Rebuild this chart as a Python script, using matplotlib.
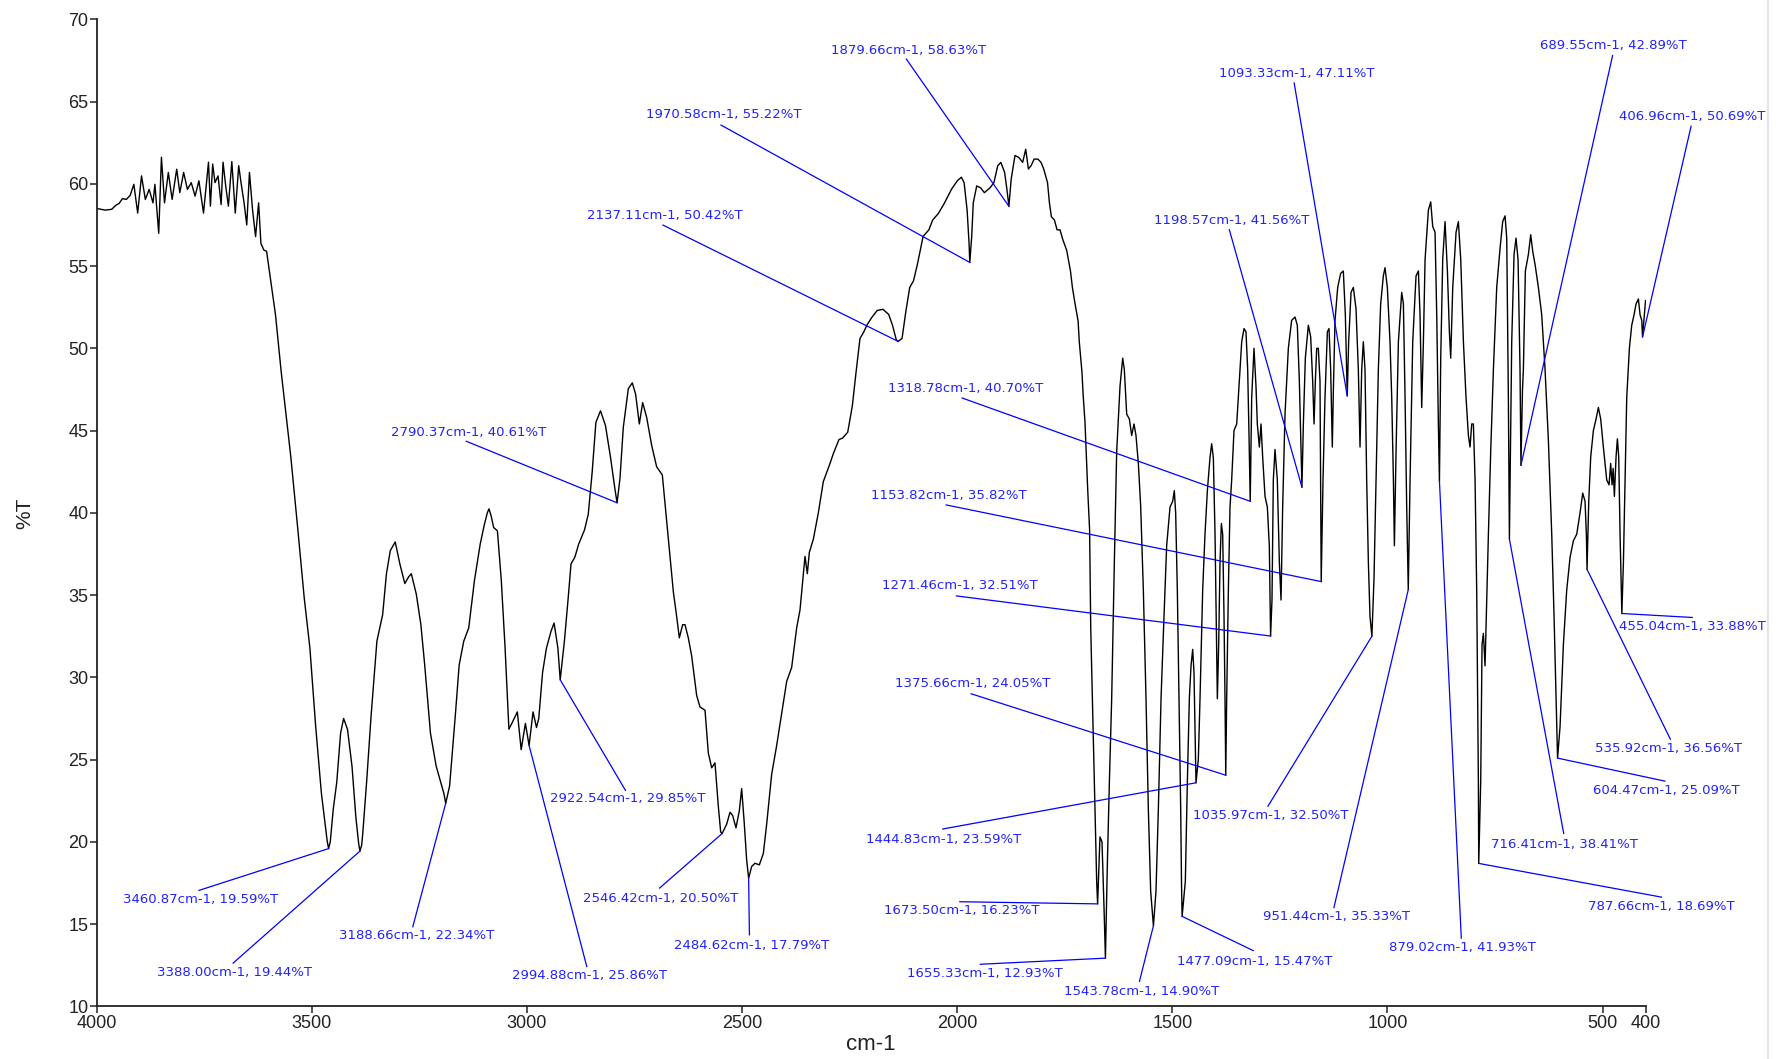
import matplotlib
matplotlib.use("Agg")
import matplotlib.pyplot as plt
from matplotlib.lines import Line2D

plt.rcParams['font.family'] = ['Liberation Sans', 'DejaVu Sans']

# spectrum (cm-1, %T), high to low wavenumber
wavenumber = [
    4000, 3980, 3965, 3955, 3948, 3940, 3931, 3922, 3913.5, 3904.6, 3895.7, 3886.8,
    3877.9, 3869.0, 3864.6, 3855.7, 3849.4, 3842.3, 3833.4, 3824.5, 3813.9, 3806.7,
    3797.8, 3789.0, 3780.1, 3771.2, 3762.3, 3751.6, 3740.0, 3735.6, 3730.3, 3724.9,
    3717.8, 3710.7, 3706.2, 3700.0, 3693.8, 3685.8, 3677.8, 3669.8, 3664.4, 3657.3,
    3651.1, 3644.8, 3637.7, 3630.6, 3623.5, 3618.2, 3611.0, 3605, 3593.3, 3584.4,
    3571, 3564.8, 3548.8, 3532.8, 3517.6, 3504.3, 3491, 3477.6, 3464.3, 3460.87,
    3457, 3450, 3442, 3433, 3426, 3417, 3406.5, 3397.5, 3391, 3388.00, 3384, 3381.5,
    3372.6, 3362, 3348.6, 3335.3, 3326.4, 3317.5, 3306, 3295.3, 3283.7, 3275,
    3268.6, 3257, 3246.4, 3237.5, 3224.1, 3210.8, 3193, 3188.66, 3179.6, 3166.3,
    3157.4, 3146.7, 3135.2, 3121.8, 3108.5, 3099.6, 3092, 3088, 3083, 3077.3,
    3068.5, 3059.5, 3050.7, 3041.8, 3035, 3022.2, 3013.3, 3003.5, 2994.88, 2985.7,
    2977.7, 2972.4, 2963.5, 2954.6, 2943.9, 2936.8, 2927.9, 2922.54, 2912.8, 2903.9,
    2897.4, 2888.5, 2879.6, 2866.2, 2857.4, 2848.5, 2839.6, 2828.9, 2817.3, 2805.8,
    2795.1, 2790.37, 2783.6, 2775.9, 2764.2, 2755, 2747.2, 2738.7, 2730.9, 2721.6,
    2710, 2698.4, 2685.2, 2675.2, 2667.4, 2659.6, 2651.9, 2645.7, 2637.9, 2632.5,
    2624.8, 2617, 2605.4, 2597.7, 2586, 2578.3, 2570.5, 2562.8, 2555, 2549.6,
    2546.42, 2535.7, 2527.9, 2521.7, 2514, 2506.2, 2500.8, 2494.6, 2489.2, 2484.62,
    2477.6, 2469.8, 2459.7, 2450.4, 2442.7, 2431.1, 2419.5, 2407.8, 2396.2, 2384.6,
    2373, 2365.2, 2357.5, 2353.6, 2348.2, 2343.5, 2334.2, 2322.6, 2311, 2295.5,
    2287.7, 2274.7, 2265.9, 2254.3, 2243.6, 2234.7, 2225.8, 2216.9, 2209.8, 2199.1,
    2185.8, 2172.4, 2159.1, 2150.2, 2141.3, 2137.11, 2128, 2119.1, 2110.2, 2101.4,
    2092.4, 2079.1, 2065.7, 2056.8, 2043.5, 2030.1, 2012.4, 1999, 1990.1, 1983.8,
    1976.8, 1972.3, 1970.58, 1966.1, 1962.5, 1954.5, 1945.6, 1936.7, 1923.4, 1914.5,
    1905.6, 1898.4, 1889.6, 1884, 1879.66, 1874.4, 1865.5, 1856.6, 1847.7, 1840.6,
    1834.4, 1828.1, 1821, 1812.2, 1805, 1798.8, 1789.9, 1785.5, 1781, 1773.9,
    1767.7, 1760.9, 1754.3, 1745.4, 1736.6, 1732.1, 1725.9, 1718.8, 1716.1, 1709.9,
    1706.7, 1702.8, 1696.5, 1692.1, 1689.5, 1685, 1679.5, 1675.7, 1673.50, 1668,
    1663.3, 1658.6, 1655.33, 1650.9, 1646.2, 1640.8, 1634.6, 1629.2, 1621.4, 1615.2,
    1611.4, 1605.9, 1599.7, 1594.3, 1588.9, 1584.3, 1578.8, 1573.4, 1567.2, 1561,
    1555.6, 1550.2, 1543.78, 1537.8, 1532.3, 1526.1, 1519.2, 1513, 1505.2, 1499,
    1495.2, 1492.1, 1488.2, 1484.3, 1480.4, 1478.5, 1477.09, 1469.6, 1464.9, 1460.3,
    1456.4, 1452.5, 1449.5, 1447.1, 1444.83, 1439.4, 1435.5, 1429.3, 1423.9, 1418.4,
    1412.3, 1408.4, 1404.5, 1400.6, 1398.3, 1395.2, 1392.1, 1389, 1385.9, 1382.8,
    1379.7, 1377.4, 1375.66, 1373.5, 1369.6, 1365.8, 1361.9, 1356.5, 1350.2, 1344.1,
    1338.6, 1333.2, 1328.6, 1324.7, 1321.6, 1318.78, 1315.4, 1310, 1305.4, 1302.3,
    1297.6, 1293.7, 1289.9, 1284.4, 1279, 1274.4, 1271.46, 1268.2, 1265.1, 1261.2,
    1255.8, 1251.1, 1247.2, 1243.4, 1237.9, 1230.2, 1222.5, 1214.7, 1209.3, 1204.6,
    1201.5, 1198.57, 1195.3, 1190.7, 1183.7, 1178.3, 1173.6, 1170.5, 1167.4, 1164.3,
    1160.5, 1156.6, 1155, 1153.82, 1149.6, 1145, 1139.5, 1135.7, 1131.8, 1128,
    1125.6, 1121.7, 1115.5, 1108.6, 1102.4, 1097.7, 1095, 1093.33, 1090, 1084.5,
    1079.1, 1072.9, 1067.5, 1063.6, 1059.7, 1055.9, 1052, 1048.1, 1044.2, 1040.4,
    1035.97, 1031.1, 1026.4, 1021, 1015.6, 1009.4, 1005.5, 1000.1, 993.9, 989.9,
    986, 983.7, 979.9, 974.4, 966.7, 962.8, 958.9, 955.1, 951.44, 947.3,
    941.1, 933.4, 927.9, 924.1, 920.2, 916.3, 912.4, 904.7, 899.3, 894.6,
    889.2, 885.3, 881.5, 879.02, 876, 871.4, 866, 860.5, 855.9, 852.8,
    848.1, 840.4, 835, 829.5, 823.3, 817.2, 811.7, 807.9, 804, 800.1,
    796.2, 792.4, 788.5, 787.66, 783.1, 780, 776.9, 773, 769.1, 765.2,
    759.9, 753.6, 745.9, 738.2, 732, 726.5, 722.6, 718.8, 716.41, 713.3,
    711, 705.6, 701, 696.3, 691.7, 689.55, 686, 683.9, 679.3, 672.3,
    666.9, 662.2, 656.8, 649, 641.3, 633.5, 625.8, 618, 612.6, 608,
    604.47, 598.7, 590.9, 583.2, 575.4, 567.7, 559.9, 552.2, 546, 540.6,
    537.5, 535.92, 532, 527.4, 521.2, 515, 509.6, 504.2, 498, 490.2,
    484.8, 481, 477.8, 475.3, 472.4, 468.5, 465.4, 462.3, 459.2, 455.04,
    451.4, 447.6, 443.7, 437.5, 432.1, 426.7, 422, 416.6, 412.7, 408.8,
    406.96, 402.6, 400,
]
transmittance = [
    58.5, 58.4, 58.45, 58.7, 58.8, 59.1, 59.05, 59.3, 59.97, 58.22, 60.48, 59.05,
    59.66, 58.84, 59.97, 56.99, 61.61, 58.84, 60.69, 59.05, 60.89, 59.46,
    60.69, 59.66, 60.07, 59.25, 60.18, 58.22, 61.31, 58.64, 61.2, 60.07,
    60.48, 58.74, 61.31, 59.87, 58.64, 61.35, 58.22, 61.1, 60.07, 58.84,
    57.5, 60.69, 58.43, 56.79, 58.84, 56.37, 55.96, 55.9, 53.7, 52.06,
    48.56, 47.13, 43.43, 39.11, 34.85, 31.77, 27.05, 22.95, 20.08, 19.59,
    20.0, 22.0, 23.6, 26.6, 27.5, 26.85, 24.6, 21.5, 19.9, 19.44, 19.8, 20.5,
    23.6, 27.7, 32.2, 33.8, 36.3, 37.7, 38.23, 36.9, 35.7, 36.1,
    36.3, 35.05, 33.2, 30.75, 26.6, 24.6, 22.95, 22.34, 23.4, 27.7,
    30.75, 32.2, 33.0, 35.9, 38.1, 39.2, 40.0, 40.24, 39.8, 39.11,
    38.9, 35.9, 31.8, 26.85, 27.2, 27.9, 25.6, 27.2, 25.86, 27.9,
    26.95, 27.5, 30.3, 31.77, 32.8, 33.3, 31.77, 29.85, 32.2, 34.85,
    36.9, 37.3, 38.1, 38.95, 39.9, 42.4, 45.5, 46.2, 45.3, 43.4,
    41.4, 40.61, 42.1, 45.2, 47.55, 47.9, 47.2, 45.4, 46.7, 45.8,
    44.1, 42.8, 42.3, 39.5, 37.35, 35.2, 33.7, 32.4, 33.2, 33.2,
    32.4, 31.3, 28.9, 28.2, 28.0, 25.4, 24.5, 24.8, 22.15, 20.6,
    20.5, 21.07, 21.8, 21.6, 20.85, 21.9, 23.24, 21.07, 18.9, 17.79,
    18.5, 18.7, 18.6, 19.3, 21.07, 24.1, 25.85, 27.8, 29.75, 30.6,
    33.0, 34.1, 36.3, 37.35, 36.3, 37.6, 38.4, 40.0, 41.9, 43.0,
    43.6, 44.45, 44.55, 44.9, 46.5, 48.6, 50.6, 51.0, 51.4, 51.85,
    52.3, 52.37, 52.06, 51.4, 50.5, 50.42, 50.6, 52.26, 53.7, 54.1,
    55.1, 56.8, 57.2, 57.8, 58.2, 58.8, 59.7, 60.2, 60.4, 60.07,
    58.4, 56.4, 55.22, 56.8, 58.84, 59.87, 59.76, 59.46, 59.76, 60.07,
    61.1, 61.3, 60.69, 59.6, 58.63, 60.28, 61.72, 61.6, 61.3, 62.1,
    60.9, 61.1, 61.5, 61.5, 61.3, 60.9, 60.07, 58.84, 58.0, 57.8,
    57.2, 57.2, 56.6, 55.96, 54.7, 53.7, 52.7, 51.65, 50.4, 48.56,
    47.0, 45.5, 41.4, 38.95, 33.0, 28.0, 22.0, 17.64, 16.23, 20.3,
    20.0, 16.0, 12.93, 18.6, 23.6, 28.7, 37.0, 43.7, 47.7, 49.4,
    48.7, 46.0, 45.7, 44.7, 45.4, 44.7, 43.0, 40.4, 35.3, 28.7,
    22.0, 17.0, 14.9, 17.0, 22.0, 28.7, 33.7, 38.0, 40.35, 40.7,
    41.35, 40.0, 35.3, 28.7, 22.0, 17.5, 15.47, 17.6, 23.65, 28.7,
    30.7, 31.7, 30.3, 27.0, 23.59, 25.0, 28.7, 35.3, 38.7, 41.35,
    43.35, 44.2, 43.35, 38.7, 34.3, 28.7, 32.0, 37.0, 39.35, 38.7,
    33.7, 28.7, 24.05, 28.7, 35.3, 40.35, 42.0, 45.0, 45.4, 48.0,
    50.4, 51.2, 51.0, 48.7, 44.7, 40.7, 47.0, 50.0, 47.7, 45.4,
    44.0, 45.4, 43.4, 41.0, 40.35, 38.0, 32.51, 34.7, 42.0, 43.85,
    42.0, 37.0, 34.7, 40.35, 46.0, 50.0, 51.7, 51.9, 51.4, 48.0,
    44.7, 41.56, 45.4, 49.4, 51.4, 50.7, 48.0, 45.4, 48.0, 50.0,
    50.0, 48.0, 41.0, 35.82, 42.0, 47.0, 51.0, 51.2, 48.7, 44.0,
    47.4, 51.7, 53.7, 54.55, 54.7, 52.04, 49.0, 47.11, 50.4, 53.4,
    53.7, 52.4, 48.7, 44.0, 48.7, 50.4, 48.7, 42.0, 37.0, 33.7,
    32.5, 36.0, 42.0, 48.7, 52.7, 54.4, 54.9, 53.7, 50.4, 47.0,
    42.0, 38.0, 43.7, 50.4, 53.4, 52.7, 47.0, 40.35, 35.33, 42.0,
    50.4, 54.4, 54.7, 52.04, 46.4, 50.4, 55.4, 58.4, 58.9, 57.4,
    57.05, 52.04, 45.4, 41.93, 49.4, 55.4, 57.7, 54.7, 51.0, 49.4,
    53.7, 57.05, 57.7, 55.4, 50.4, 47.0, 44.7, 44.0, 45.4, 45.4,
    42.0, 35.3, 23.65, 18.69, 23.65, 32.0, 32.67, 30.7, 34.7, 38.7,
    43.7, 48.7, 53.7, 56.05, 57.7, 58.05, 56.7, 47.0, 38.41, 45.4,
    50.4, 55.7, 56.7, 55.4, 48.7, 42.89, 47.5, 48.7, 54.7, 55.7,
    56.9, 55.9, 55.1, 53.7, 52.04, 48.7, 44.4, 38.7, 33.7, 28.7,
    25.09, 27.0, 32.0, 35.3, 37.3, 38.3, 38.7, 40.0, 41.2, 40.7,
    38.7, 36.56, 40.7, 43.4, 45.0, 45.7, 46.4, 45.7, 44.0, 42.0,
    41.7, 43.0, 41.7, 42.7, 41.0, 43.4, 44.5, 43.4, 38.7, 33.88,
    37.0, 42.0, 47.0, 50.0, 51.4, 52.04, 52.7, 53.0, 52.04, 51.7,
    50.69, 52.04, 52.9,
]

# picked peaks (cm-1, %T)
peak_wn = [3460.87, 3388.00, 3188.66, 2994.88, 2922.54, 2790.37, 2546.42, 2484.62,
           2137.11, 1970.58, 1879.66, 1318.78, 1153.82, 1271.46, 1375.66, 1444.83,
           1673.50, 1655.33, 1543.78, 1477.09, 1198.57, 1093.33, 1035.97, 951.44,
           879.02, 787.66, 716.41, 689.55, 406.96, 604.47, 535.92, 455.04]
peak_t = [19.59, 19.44, 22.34, 25.86, 29.85, 40.61, 20.50, 17.79,
          50.42, 55.22, 58.63, 40.70, 35.82, 32.51, 24.05, 23.59,
          16.23, 12.93, 14.90, 15.47, 41.56, 47.11, 32.50, 35.33,
          41.93, 18.69, 38.41, 42.89, 50.69, 25.09, 36.56, 33.88]

# where each peak label sits: text centre and start of its leader line
label_xy = [(3759.5, 16.50), (3680.2, 12.07), (3257.3, 14.29), (2855.5, 11.87),
            (2765.6, 22.61), (3135.7, 44.91), (2689.0, 16.57), (2477.5, 13.70),
            (2678.4, 58.06), (2543.6, 64.19), (2112.8, 68.13), (1980.6, 47.53),
            (2020.2, 41.07), (1993.8, 35.58), (1964.7, 29.63), (2030.8, 20.16),
            (1988.5, 15.81), (1935.6, 12.00), (1570.9, 10.90), (1309.2, 12.70),
            (1362.1, 57.77), (1211.4, 66.72), (1272.2, 21.63), (1118.9, 15.46),
            (825.5, 13.59), (363.0, 16.05), (587.6, 19.84), (474.0, 68.41),
            (291.5, 64.08), (352.3, 23.13), (347.0, 25.69), (291.5, 33.09)]
leader_xy = [(3762.1, 17.05), (3682.8, 12.63), (3265.2, 14.84), (2860.8, 12.42),
             (2770.9, 23.13), (3140.9, 44.35), (2691.6, 17.19), (2482.8, 14.35),
             (2683.7, 57.49), (2548.9, 63.57), (2118.0, 67.58), (1988.5, 46.98),
             (2025.5, 40.48), (2001.7, 34.95), (1967.4, 29.00), (2033.5, 20.78),
             (1993.8, 16.36), (1946.2, 12.56), (1576.2, 11.52), (1311.9, 13.39),
             (1367.4, 57.21), (1216.7, 66.13), (1277.5, 22.17), (1124.2, 16.01),
             (828.2, 14.15), (363.0, 16.64), (590.2, 20.51), (476.6, 67.79),
             (294.1, 63.50), (354.9, 23.69), (342.3, 26.24), (291.5, 33.64)]

fig = plt.figure(figsize=(17.83, 10.59), dpi=100)
ax = fig.add_axes([0.0542, 0.0497, 0.8687, 0.9321])

ax.plot(wavenumber, transmittance, color='black', lw=1.0)

for (pw, pt), (tx, ty), (lx, ly) in zip(zip(peak_wn, peak_t), label_xy, leader_xy):
    ax.plot([lx, pw], [ly, pt], color='#0000ff', lw=0.9, clip_on=False)
    ax.text(tx, ty, f'{pw:.2f}cm-1, {pt:.2f}%T', color='#2222ff',
            fontsize=9.5, family='DejaVu Sans', ha='center', va='center',
            clip_on=False)

ax.set_xlim(4000, 400)
ax.set_ylim(10, 70)
ax.set_xticks([4000, 3500, 3000, 2500, 2000, 1500, 1000, 500, 400])
ax.set_yticks(range(10, 71, 5))
ax.tick_params(direction='out', length=5, width=1.1, labelsize=13, pad=1,
               colors='#222222')
for side in ('top', 'right'):
    ax.spines[side].set_visible(False)
for side in ('left', 'bottom'):
    ax.spines[side].set_linewidth(1.3)
    ax.spines[side].set_color('#222222')

ax.set_xlabel('cm-1', fontsize=16, labelpad=2, color='#222222')
ax.set_ylabel('%T', fontsize=15, labelpad=24, color='#222222')

# thin frame edge on the right of the window
fig.add_artist(Line2D([0.9916, 0.9916], [0, 1], transform=fig.transFigure,
                      color='#e4e4e4', lw=1.5))

fig.savefig('out.png', dpi=100)
